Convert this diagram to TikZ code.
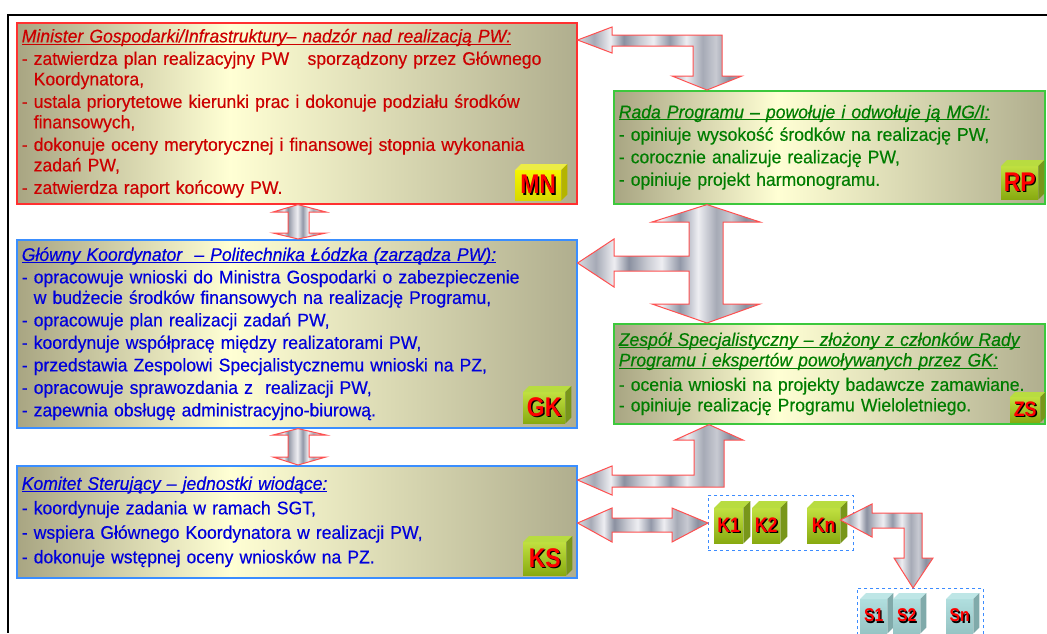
\documentclass[tikz,border=0pt]{standalone}
\usepackage{fontspec}
\setmainfont{Liberation Sans}[FakeStretch=0.96, FakeBold=0.4]
\newfontfamily\tagfont[FakeStretch=0.85]{Liberation Sans}
\usetikzlibrary{positioning,calc}
\hyphenpenalty=10000

\definecolor{boxL}{RGB}{168,165,130}
\definecolor{boxM}{RGB}{255,255,212}
\definecolor{boxR}{RGB}{176,174,142}
\definecolor{mnline}{RGB}{255,48,48}
\definecolor{mntext}{RGB}{204,0,0}
\definecolor{gkline}{RGB}{58,142,255}
\definecolor{gktext}{RGB}{0,0,220}
\definecolor{rpline}{RGB}{60,200,60}
\definecolor{rptext}{RGB}{0,125,0}
\definecolor{arrline}{RGB}{255,80,80}
\definecolor{grpline}{RGB}{60,140,255}
\definecolor{mA}{RGB}{216,218,224}
\definecolor{mB}{RGB}{166,170,182}
\definecolor{mC}{RGB}{238,238,242}
\definecolor{mD}{RGB}{138,144,160}
\definecolor{mE}{RGB}{200,202,210}
\definecolor{mF}{RGB}{146,152,168}
\definecolor{yelT}{RGB}{245,245,0}
\definecolor{yelB}{RGB}{216,216,0}
\definecolor{yeltop}{RGB}{236,236,70}
\definecolor{yelside}{RGB}{180,180,0}
\definecolor{grnT}{RGB}{192,224,64}
\definecolor{grnB}{RGB}{136,170,16}
\definecolor{grntop}{RGB}{184,220,64}
\definecolor{grnside}{RGB}{120,150,26}
\definecolor{tealT}{RGB}{176,222,222}
\definecolor{tealB}{RGB}{150,196,196}
\definecolor{tealtop}{RGB}{190,230,230}
\definecolor{tealside}{RGB}{128,170,170}

\pgfdeclarehorizontalshading{boxshade}{100bp}{color(0bp)=(boxL); color(25bp)=(boxL); color(44bp)=(boxM); color(75bp)=(boxR); color(100bp)=(boxR)}
\pgfdeclarehorizontalshading{metal}{100bp}{color(0bp)=(mA); color(25bp)=(mA); color(30bp)=(mB); color(35bp)=(mC); color(39bp)=(mD); color(44bp)=(mE); color(48bp)=(mC); color(53bp)=(mF); color(58bp)=(mC); color(63bp)=(mB); color(67bp)=(mE); color(71bp)=(mD); color(75bp)=(mB); color(100bp)=(mB)}

\newcommand{\ttl}[1]{\leavevmode\setbox0\hbox{\itshape #1}\rlap{\rule[-2pt]{\wd0}{0.8pt}}\box0}
\newcommand{\shtxt}[1]{\rlap{\hspace{1.4pt}\raisebox{-1.4pt}{\color{black}#1}}#1}
\newcommand{\cubefaces}[4]{%
  \fill[#2] (#1.north west) -- ++(#4,-#4) -- ($(#1.north east)+(#4,-#4)$) -- (#1.north east) -- cycle;
  \fill[#3] (#1.north east) -- ++(#4,-#4) -- ($(#1.south east)+(#4,-#4)$) -- (#1.south east) -- cycle;
}

\tikzset{
  infobox/.style={anchor=north west, shade, shading=boxshade, line width=1.6pt,
    inner xsep=5pt, inner ysep=2pt, align=left, font=\fontsize{18.3}{20.5}\selectfont},
  cubeface/.style={anchor=north west, inner sep=0pt, text=red},
  bigtag/.style={font=\tagfont\bfseries\fontsize{27}{27}\selectfont},
  smalltag/.style={font=\tagfont\bfseries\fontsize{21}{21}\selectfont},
  tinytag/.style={font=\tagfont\bfseries\fontsize{18.5}{18.5}\selectfont},
  yelcube/.style={top color=yelT, bottom color=yelB},
  grncube/.style={top color=grnT, bottom color=grnB},
  tealcube/.style={top color=tealT, bottom color=tealB},
  grpbox/.style={anchor=north west, draw=grpline, dashed, line width=0.9pt, inner sep=0pt},
  blockarrow/.style={draw=arrline, line width=1pt, shade, shading=metal}
}

\begin{document}
\begin{tikzpicture}[x=1pt,y=-1pt]
\useasboundingbox (0,0) rectangle (1047,633);
\clip (0,0) rectangle (1047,633);

%---------FRAME-----------%
\draw[line width=1.6pt] (1047,15) -- (8,15) -- (8,633);

%---------BOXES-----------%
\node[infobox, draw=mnline, text=mntext, text width=550pt, minimum height=181pt] (mn) at (16,22) {%
\ttl{Minister Gospodarki/Infrastruktury– nadzór nad realizacją PW:}\\[2pt]
- zatwierdza plan realizacyjny PW\ \ \ sporządzony przez Głównego\\
\phantom{- }Koordynatora,\\[2pt]
- ustala priorytetowe kierunki prac i dokonuje podziału środków\\
\phantom{- }finansowych,\\[2pt]
- dokonuje oceny merytorycznej i finansowej stopnia wykonania\\
\phantom{- }zadań PW,\\[2pt]
- zatwierdza raport końcowy PW.};

\node[infobox, draw=gkline, text=gktext, text width=550pt, minimum height=188pt] (gk) at (16,239) {%
\ttl{Główny Koordynator\ \ – Politechnika Łódzka (zarządza PW):}\\[2pt]
- opracowuje wnioski do Ministra Gospodarki o zabezpieczenie\\
\phantom{- }w budżecie środków finansowych na realizację Programu,\\[2pt]
- opracowuje plan realizacji zadań PW,\\[2pt]
- koordynuje współpracę między realizatorami PW,\\[2pt]
- przedstawia Zespolowi Specjalistycznemu wnioski na PZ,\\[2pt]
- opracowuje sprawozdania z\ \ realizacji PW,\\[2pt]
- zapewnia obsługę administracyjno-biurową.};

\node[infobox, draw=gkline, text=gktext, text width=550pt, minimum height=112pt] (ks) at (16,465) {%
\ttl{Komitet Sterujący – jednostki wiodące:}\\[4pt]
- koordynuje zadania w ramach SGT,\\[4pt]
- wspiera Głównego Koordynatora w realizacji PW,\\[4pt]
- dokonuje wstępnej oceny wniosków na PZ.};

\node[infobox, draw=rpline, text=rptext, text width=421pt, minimum height=113pt] (rp) at (613,90) {%
\ttl{Rada Programu – powołuje i odwołuje ją MG/I:}\\[2pt]
- opiniuje wysokość środków na realizację PW,\\[2pt]
- corocznie analizuje realizację PW,\\[2pt]
- opiniuje projekt harmonogramu.};

\node[infobox, draw=rpline, text=rptext, text width=421pt, minimum height=100pt] (zs) at (613,323) {%
\ttl{Zespół Specjalistyczny – złożony z członków Rady}\\
\ttl{Programu i ekspertów powoływanych przez GK:}\\[4pt]
- ocenia wnioski na projekty badawcze zamawiane.\\
- opiniuje realizację Programu Wieloletniego.};

%---------TAG CUBES-----------%
\node[cubeface, bigtag, yelcube, minimum width=46pt, minimum height=30pt] (mnt) at (515,170) {\shtxt{MN}};
\cubefaces{mnt}{yeltop}{yelside}{6}
\node[cubeface, bigtag, grncube, minimum width=37pt, minimum height=33pt] (rpt) at (1001,166) {\shtxt{RP}};
\cubefaces{rpt}{grntop}{grnside}{6}
\node[cubeface, bigtag, grncube, minimum width=42pt, minimum height=31pt] (gkt) at (523,392) {\shtxt{GK}};
\cubefaces{gkt}{grntop}{grnside}{6}
\node[cubeface, smalltag, grncube, minimum width=30pt, minimum height=25pt] (zst) at (1010,397) {\shtxt{ZS}};
\cubefaces{zst}{grntop}{grnside}{5}
\node[cubeface, bigtag, grncube, minimum width=43pt, minimum height=33pt] (kst) at (523,542) {\shtxt{KS}};
\cubefaces{kst}{grntop}{grnside}{6}

%---------GROUPS-----------%
\node[grpbox, minimum width=145pt, minimum height=55pt] (kgrp) at (708,495) {};
\node[grpbox, minimum width=126pt, minimum height=70pt] (sgrp) at (857,588) {};

\foreach \nm/\lbl/\xx/\ww in {k1/K1/714/29, k2/K2/752/28, kn/Kn/807/33}{
  \node[cubeface, smalltag, grncube, minimum width=\ww pt, minimum height=35pt] (\nm) at (\xx,508) {\shtxt{\lbl}};
  \cubefaces{\nm}{grntop}{grnside}{7}
}
\foreach \nm/\lbl/\xx in {s1/S1/860, s2/S2/893, sn/Sn/946}{
  \node[cubeface, tinytag, tealcube, minimum width=27pt, minimum height=34pt] (\nm) at (\xx,599) {\shtxt{\lbl}};
  \cubefaces{\nm}{tealtop}{tealside}{6}
}

%---------ARROWS-----------%
% MN <-> RP
\draw[blockarrow] (mn.east |- 0,40) -- (612,27) -- (612,35) -- (722,35) -- (722,76) -- (742,76)
  -- (rp.north -| 707,0) -- (672,76) -- (693,76) -- (693,46) -- (612,46) -- (612,53) -- cycle;
% MN <-> GK
\draw[blockarrow] (mn.south -| 298,0) -- (326,212) -- (309,212) -- (309,233) -- (326,233)
  -- (gk.north -| 298,0) -- (273,233) -- (288,233) -- (288,212) -- (273,212) -- cycle;
% RP <-> ZS, GK
\draw[blockarrow] (rp.south -| 707,0) -- (760,222) -- (723,222) -- (723,304) -- (760,304)
  -- (zs.north -| 707,0) -- (652,304) -- (689,304) -- (689,271) -- (614,271) -- (614,287)
  -- (gk.east |- 0,263) -- (614,239) -- (614,256) -- (689,256) -- (689,222) -- (652,222) -- cycle;
% GK <-> KS
\draw[blockarrow] (gk.south -| 298,0) -- (326,435) -- (309,435) -- (309,457) -- (326,457)
  -- (ks.north -| 298,0) -- (273,457) -- (288,457) -- (288,435) -- (273,435) -- cycle;
% ZS <-> KS
\draw[blockarrow] (zs.south -| 709,0) -- (743,440) -- (724,440) -- (724,487) -- (612,487) -- (612,495)
  -- (ks.east |- 0,480) -- (612,466) -- (612,475) -- (694,475) -- (694,440) -- (675,440) -- cycle;
% KS <-> K
\draw[blockarrow] (ks.east |- 0,523) -- (612,508) -- (612,518) -- (672,518) -- (672,508)
  -- (kgrp.west |- 0,523) -- (672,542) -- (672,532) -- (612,532) -- (612,542) -- cycle;
% Kn <-> S
\draw[blockarrow] (kn.east |- 0,520) -- (872,504) -- (872,513) -- (922,513) -- (922,558) -- (933,558)
  -- (sgrp.north -| 913,0) -- (894,558) -- (904,558) -- (904,528) -- (872,528) -- (872,537) -- cycle;

\end{tikzpicture}
\end{document}
